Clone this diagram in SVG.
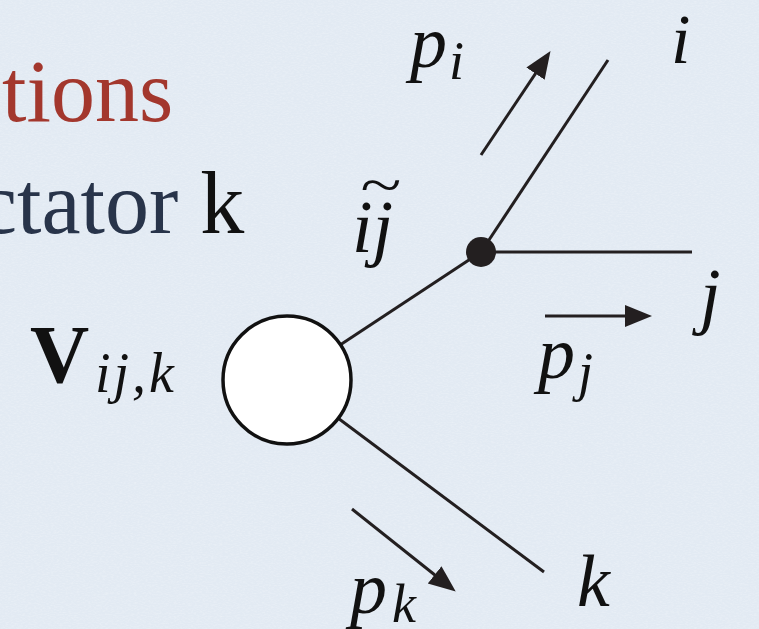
<svg xmlns="http://www.w3.org/2000/svg" width="759" height="629" viewBox="0 0 759 629">
<defs>
<style>
.ln{stroke:#231f20;stroke-width:3;fill:none;stroke-linecap:butt}
.ar{stroke:#231f20;stroke-width:3;fill:none;marker-end:url(#head)}
.m{font-family:"Liberation Serif","Times New Roman",serif;font-style:italic;fill:#111}
.sub{font-size:54px}
.big{font-size:74px}
.txt{font-family:"Liberation Serif","Times New Roman",serif;font-size:88px}
</style>
<marker id="head" markerUnits="userSpaceOnUse" markerWidth="30" markerHeight="24" refX="18" refY="11" orient="auto">
<path d="M0,0 L27,11 L0,22 z" fill="#231f20"/>
</marker>
<filter id="paper" x="0" y="0" width="100%" height="100%">
<feTurbulence type="fractalNoise" baseFrequency="0.35 0.9" numOctaves="3" seed="7"/>
<feColorMatrix type="matrix" values="0 0 0 0 1  0 0 0 0 1  0 0 0 0 1  0.9 0 0 0 -0.35"/>
</filter>
</defs>
<rect width="759" height="629" fill="#e2eaf3"/>
<rect width="759" height="629" filter="url(#paper)" opacity="0.5"/>

<g id="slide-text">
<text class="txt" x="2" y="121" fill="#a3372d">tions</text>
<text class="txt" x="-22" y="233"><tspan fill="#28344a">ctator</tspan><tspan fill="#111"> k</tspan></text>
</g>

<g id="connectors">
<line class="ln" x1="287" y1="380" x2="481" y2="252"/>
<line class="ln" x1="481" y1="252" x2="608" y2="60"/>
<line class="ln" x1="481" y1="252" x2="692" y2="252"/>
<line class="ln" x1="287" y1="380" x2="544" y2="572"/>
<line class="ar" x1="481" y1="155" x2="545.5" y2="58.6"/>
<line class="ar" x1="545" y1="316" x2="643" y2="316"/>
<line class="ar" x1="352" y1="509" x2="448.7" y2="586"/>
</g>

<g id="vertex">
<circle cx="287" cy="380" r="64" fill="#fff" stroke="#111" stroke-width="3.5"/>
<text x="30" y="382" font-family="Liberation Serif, Times New Roman, serif" font-weight="bold" font-size="82" fill="#111">V</text>
<text class="m" x="95" y="392" font-size="56" letter-spacing="3">ij,k</text>
</g>

<g id="branch-point">
<circle cx="481" cy="252" r="15" fill="#231f20"/>
<text class="m big" x="352" y="252">ij</text>
<text x="0" y="0" font-family="Liberation Serif, Times New Roman, serif" font-size="56" fill="#111" text-anchor="middle" transform="translate(381,204) scale(1.35,1)">~</text>
</g>

<g id="parton-i">
<text class="m" x="671" y="63" font-size="70">i</text>
<text class="m big" x="410" y="67">p</text>
<text class="m sub" x="449" y="79">i</text>
</g>

<g id="parton-j">
<text class="m big" x="700" y="320">j</text>
<text class="m big" x="538" y="378">p</text>
<text class="m sub" x="578" y="390">j</text>
</g>

<g id="parton-k">
<text class="m big" x="577" y="606">k</text>
<text class="m big" x="350" y="613">p</text>
<text class="m sub" x="392" y="622">k</text>
</g>
</svg>
